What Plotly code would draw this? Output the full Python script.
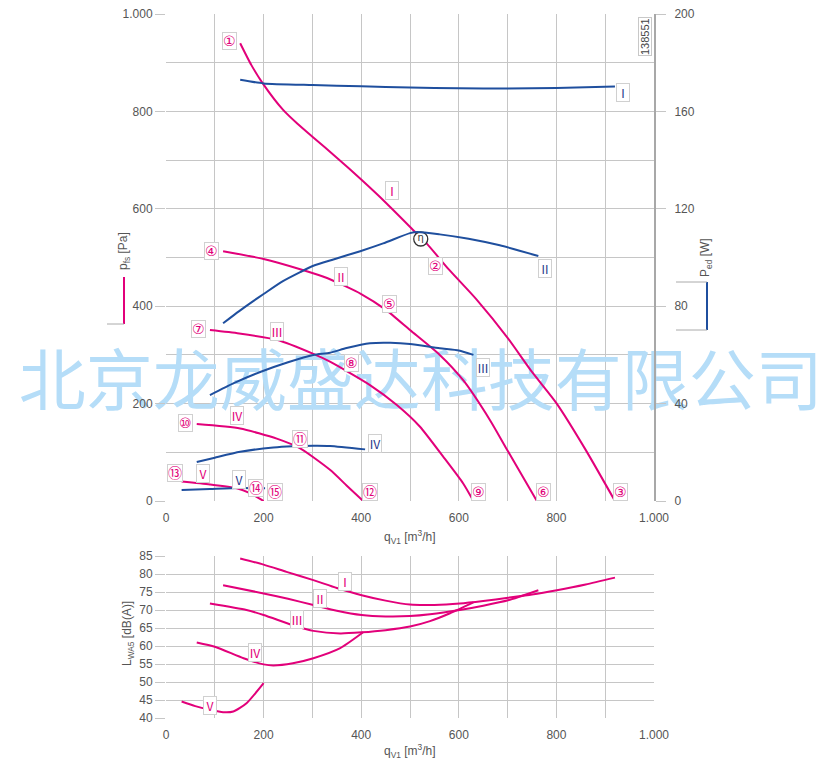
import plotly.graph_objects as go

# ---------------- data ----------------
# static pressure curves p_fs [Pa] vs air flow q_V1 [m3/h]
q_p1 = [152, 175, 200, 240, 270, 300, 350, 400, 450, 510, 534, 580, 637, 700, 750, 800, 860, 920]
p1 = [940, 895, 855, 803, 774, 748, 705, 660, 613, 553, 529, 475, 413, 335, 265, 201, 105, 0]
q_p2 = [117, 200, 275, 330, 400, 450, 500, 561, 609, 664, 698, 760]
p2 = [513, 497, 476, 458, 425, 393, 351, 300, 248, 166, 107, 0]
q_p3 = [90, 150, 227, 302, 336, 418, 473, 520, 568, 609, 630]
p3 = [351, 344, 331, 302, 286, 238, 197, 153, 91, 36, 0]
q_p4 = [63, 152, 227, 275, 336, 370, 404]
p4 = [158, 149, 128, 108, 64, 32, 0]
q_p5 = [32, 90, 145, 172, 200]
p5 = [40, 34, 26, 16, 0]

# electrical power P_ed [W]
q_w1 = [152, 200, 300, 400, 500, 600, 700, 800, 920]
w1 = [173, 171.5, 170.8, 170.3, 169.8, 169.5, 169.4, 169.6, 170.2]
q_w2 = [117, 150, 178, 200, 237, 275, 302, 343, 398, 445, 500, 515, 561, 620, 684, 763]
w2 = [73, 78, 82, 85, 90, 94, 96.6, 99.2, 102.6, 105.8, 110, 110.5, 109.5, 107.7, 105, 100.6]
q_w3 = [90, 140, 193, 250, 302, 336, 370, 418, 460, 500, 561, 600, 630]
w3 = [43.5, 48.5, 53, 57, 60, 60.9, 62.8, 64.8, 65, 64.5, 62.7, 61.8, 60]
q_w4 = [63, 100, 152, 220, 260, 302, 336, 408]
w4 = [16, 17.8, 20.2, 22, 22.5, 22.7, 22.6, 21.2]
q_w5 = [32, 90, 150, 203]
w5 = [4.5, 4.9, 5.3, 5.2]

# sound power L_WA5 [dB(A)]
q_l1 = [152, 200, 247, 302, 350, 401, 450, 500, 550, 602, 650, 701, 750, 801, 860, 920]
l1 = [84.3, 82.6, 80.6, 78.3, 76.1, 74.1, 72.6, 71.5, 71.4, 71.8, 72.5, 73.4, 74.3, 75.5, 77.1, 79.0]
q_l2 = [117, 200, 250, 302, 350, 401, 450, 500, 541, 602, 650, 701, 763]
l2 = [76.9, 74.6, 73.1, 71.4, 69.8, 68.6, 68.2, 68.3, 68.8, 70.0, 71.2, 72.7, 75.5]
q_l3 = [90, 165, 200, 268, 302, 357, 401, 450, 500, 541, 582, 630]
l3 = [71.8, 70.0, 68.6, 65.4, 64.2, 63.5, 63.8, 64.4, 65.4, 66.9, 69.1, 72.1]
q_l4 = [63, 100, 159, 200, 220, 260, 302, 357, 404]
l4 = [61.0, 59.8, 56.6, 54.9, 54.6, 55.2, 56.6, 59.4, 63.8]
q_l5 = [32, 60, 90, 117, 138, 165, 200]
l5 = [44.6, 43.3, 42.3, 41.6, 41.8, 44.1, 49.7]

# tick labels
q_ticks = [0, 200, 400, 600, 800, 1000]
q_ticktext = ["0", "200", "400", "600", "800", "1.000"]
p_ticks = [0, 200, 400, 600, 800, 1000]
p_ticktext = ["0", "200", "400", "600", "800", "1.000"]
w_ticks = [0, 40, 80, 120, 160, 200]
l_ticks = [40, 45, 50, 55, 60, 65, 70, 75, 80, 85]

# labels
op_numbers = ["①", "②", "③", "④", "⑤", "⑥", "⑦", "⑧", "⑨", "⑩", "⑪", "⑫", "⑬", "⑭", "⑮"]
op_q = [131, 553, 932, 94, 459, 773, 66, 381, 641, 39, 275, 418, 18, 184, 223]
op_p = [944, 483, 18, 513, 404, 18, 353, 283, 18, 160, 127, 18, 57, 27, 18]
roman = ["Ⅰ", "Ⅱ", "Ⅲ", "Ⅳ", "Ⅴ"]
pink_lab_q = [463, 359, 227, 145, 76]
pink_lab_p = [637, 462, 349, 175, 57]
blue_lab_q = [937, 777, 650, 428, 150]
blue_lab_p = [838, 478, 275, 119, 45]
noise_lab_q = [367, 316, 268, 182, 90]
noise_lab_l = [77.8, 73.1, 67.5, 58.1, 43.6]

PINK = "#e2007a"
BLUE = "#1f4f9e"
GRID = "#c6c6c6"
TXT = "#555555"
FONT = "Liberation Sans, Arial, sans-serif"
SYMF = "DejaVu Sans, Noto Sans CJK SC, sans-serif"

W, H = 838, 766
ML, MR, MT, MB = 166, 184, 14, 48
PW, PH = W - ML - MR, H - MT - MB


def px(xp):
    return (xp - ML) / PW


def py(yp):
    return (H - MB - yp) / PH


fig = go.Figure()

# watermark (drawn below the curves)
fig.add_trace(go.Scatter(
    x=[522], y=[232], mode="text", text=["北京龙威盛达科技有限公司"],
    textfont=dict(size=67, color="#b5ddf8", family="Noto Sans CJK SC"),
    cliponaxis=False, xaxis="x", yaxis="y", hoverinfo="skip"))

line_style = dict(width=2, shape="spline", smoothing=0.6)
for qq, pp in [(q_p1, p1), (q_p2, p2), (q_p3, p3), (q_p4, p4), (q_p5, p5)]:
    fig.add_trace(go.Scatter(x=qq, y=pp, mode="lines", line=dict(color=PINK, **line_style),
                             xaxis="x", yaxis="y"))
for qq, ww in [(q_w1, w1), (q_w2, w2), (q_w3, w3), (q_w4, w4), (q_w5, w5)]:
    fig.add_trace(go.Scatter(x=qq, y=ww, mode="lines", line=dict(color=BLUE, **line_style),
                             xaxis="x", yaxis="y2"))
for qq, ll in [(q_l1, l1), (q_l2, l2), (q_l3, l3), (q_l4, l4), (q_l5, l5)]:
    fig.add_trace(go.Scatter(x=qq, y=ll, mode="lines", line=dict(color=PINK, **line_style),
                             xaxis="x2", yaxis="y3"))

# efficiency marker (eta)
fig.add_trace(go.Scatter(
    x=[522], y=[538], mode="markers+text", text=["η"],
    marker=dict(symbol="circle", size=14, color="white", line=dict(color="#333", width=1.3)),
    textfont=dict(size=10, color="#333", family=SYMF), textposition="middle center",
    xaxis="x", yaxis="y", hoverinfo="skip"))

ann = []
for t, xq, yp in zip(op_numbers, op_q, op_p):
    ann.append(dict(x=xq, y=yp, xref="x", yref="y", text=t, showarrow=False,
                    font=dict(size=14, color=PINK, family=SYMF),
                    bgcolor="white", bordercolor="#d0d0d0", borderwidth=1, borderpad=0))
for t, xq, yp in zip(roman, pink_lab_q, pink_lab_p):
    ann.append(dict(x=xq, y=yp, xref="x", yref="y", text=t, showarrow=False,
                    font=dict(size=12, color=PINK, family="Noto Sans CJK SC"),
                    bgcolor="white", bordercolor="#d0d0d0", borderwidth=1, borderpad=0))
for t, xq, yp in zip(roman, blue_lab_q, blue_lab_p):
    ann.append(dict(x=xq, y=yp, xref="x", yref="y", text=t, showarrow=False,
                    font=dict(size=12, color="#2a3a8c", family="Noto Sans CJK SC"),
                    bgcolor="white", bordercolor="#d0d0d0", borderwidth=1, borderpad=0))
for t, xq, yl in zip(roman, noise_lab_q, noise_lab_l):
    ann.append(dict(x=xq, y=yl, xref="x2", yref="y3", text=t, showarrow=False,
                    font=dict(size=12, color=PINK, family="Noto Sans CJK SC"),
                    bgcolor="white", bordercolor="#d0d0d0", borderwidth=1, borderpad=0))

C = dict(xref="paper", yref="paper", showarrow=False, xanchor="center", yanchor="middle")

# document number
ann.append(dict(x=px(645), y=py(37), text="138551", textangle=-90,
                font=dict(size=11, color="#444", family=FONT),
                bgcolor="white", bordercolor="#c8c8c8", borderwidth=1, borderpad=0, **C))

# axis titles
ann += [
    dict(x=px(410), y=py(537), text="q<sub>V1</sub> [m<sup>3</sup>/h]",
         font=dict(size=12, color=TXT, family=FONT), **C),
    dict(x=px(410), y=py(751), text="q<sub>V1</sub> [m<sup>3</sup>/h]",
         font=dict(size=12, color=TXT, family=FONT), **C),
    dict(x=px(124), y=py(251), textangle=-90, text="p<sub>fs</sub> [Pa]",
         font=dict(size=12, color=TXT, family=FONT), **C),
    dict(x=px(706), y=py(258), textangle=-90, text="P<sub>ed</sub> [W]",
         font=dict(size=12, color=TXT, family=FONT), **C),
    dict(x=px(128), y=py(634), textangle=-90, text="L<sub>WA5</sub> [dB(A)]",
         font=dict(size=12, color=TXT, family=FONT), **C),
]

shapes = [
    dict(type="line", xref="paper", yref="paper", x0=px(124), x1=px(124), y0=py(277), y1=py(324),
         line=dict(color=PINK, width=2)),
    dict(type="line", xref="paper", yref="paper", x0=px(107), x1=px(124), y0=py(324), y1=py(324),
         line=dict(color="#aaaaaa", width=1)),
    dict(type="line", xref="paper", yref="paper", x0=px(707), x1=px(707), y0=py(282), y1=py(330),
         line=dict(color=BLUE, width=2)),
    dict(type="line", xref="paper", yref="paper", x0=px(676), x1=px(707), y0=py(282), y1=py(282),
         line=dict(color="#aaaaaa", width=1)),
    dict(type="line", xref="paper", yref="paper", x0=px(676), x1=px(707), y0=py(330), y1=py(330),
         line=dict(color="#aaaaaa", width=1)),
]

tickfont = dict(size=12, color=TXT, family=FONT)
top_dom = [py(501), 1.0]
bot_dom = [0.0, py(556)]

fig.update_layout(
    width=W, height=H, margin=dict(l=ML, r=MR, t=MT, b=MB, autoexpand=False),
    paper_bgcolor="white", plot_bgcolor="white", showlegend=False,
    annotations=ann, shapes=shapes,
    xaxis=dict(domain=[0, 1], anchor="y", range=[0, 1000], tickvals=q_ticks, ticktext=q_ticktext,
               showgrid=True, gridcolor=GRID, gridwidth=1.3, zeroline=False, showline=False,
               minor=dict(dtick=100, tick0=0, showgrid=True, gridcolor=GRID, gridwidth=1.3, ticks=""),
               ticks="", ticklabelstandoff=8, tickfont=tickfont, automargin=False),
    yaxis=dict(domain=top_dom, anchor="x", range=[0, 1000], tickvals=p_ticks, ticktext=p_ticktext,
               showgrid=True, gridcolor=GRID, gridwidth=1.3, zeroline=False,
               minor=dict(dtick=100, tick0=0, showgrid=True, gridcolor=GRID, gridwidth=1.3, ticks=""),
               ticks="outside", ticklen=10, tickcolor=GRID, tickwidth=1.3, tickfont=tickfont,
               automargin=False),
    yaxis2=dict(overlaying="y", anchor="x", side="right", range=[0, 200], tickvals=w_ticks,
                showgrid=False, zeroline=False, showline=True, linecolor="#a8a8a8", linewidth=2,
                ticks="outside", ticklen=10, tickcolor=GRID, tickwidth=1.3, tickfont=tickfont,
                ticklabelstandoff=6, automargin=False),
    xaxis2=dict(domain=[0, 1], anchor="y3", range=[0, 1000], tickvals=q_ticks, ticktext=q_ticktext,
                showgrid=True, gridcolor=GRID, gridwidth=1.3, zeroline=False,
                minor=dict(dtick=100, tick0=0, showgrid=True, gridcolor=GRID, gridwidth=1.3, ticks=""),
                ticks="", ticklabelstandoff=8, tickfont=tickfont, automargin=False),
    yaxis3=dict(domain=bot_dom, anchor="x2", range=[40, 85], tickvals=l_ticks,
                showgrid=True, gridcolor=GRID, gridwidth=1.3, zeroline=False,
                ticks="outside", ticklen=10, tickcolor=GRID, tickwidth=1.3, tickfont=tickfont,
                automargin=False),
)

fig.write_html("out.html", config={"displayModeBar": False},
               post_script="document.body.style.margin='0';")
